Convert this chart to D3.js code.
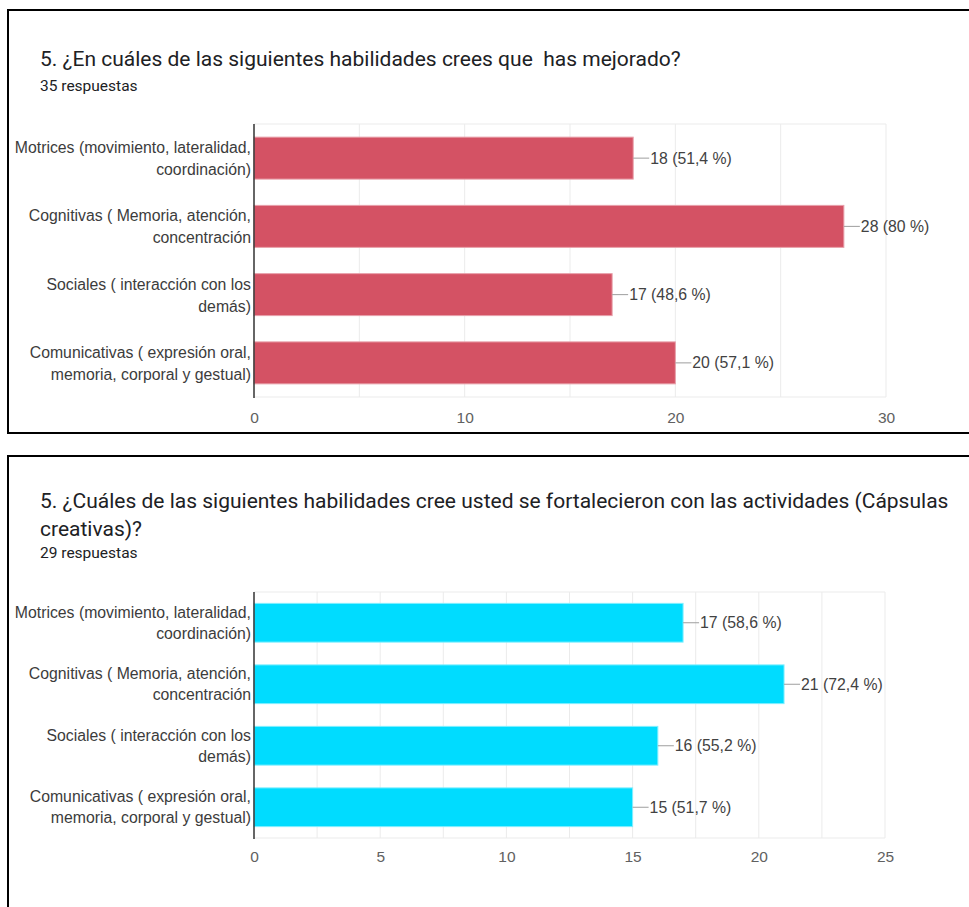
<!DOCTYPE html>
<html>
<head>
<meta charset="utf-8">
<script src="https://cdn.jsdelivr.net/npm/d3@7"></script>
<style>
  html, body { margin: 0; padding: 0; background: #ffffff; }
  svg { display: block; }
  text { white-space: pre; }
</style>
</head>
<body>
<svg id="chart" width="969" height="907"></svg>
<script>
// ---- data ----
const categories = [
  ["Motrices (movimiento, lateralidad,", "coordinación)"],
  ["Cognitivas ( Memoria, atención,", "concentración"],
  ["Sociales ( interacción con los", "demás)"],
  ["Comunicativas ( expresión oral,", "memoria, corporal y gestual)"]
];
const catKeys = ["motrices", "cognitivas", "sociales", "comunicativas"];

const title1 = ["5. ¿En cuáles de las siguientes habilidades crees que  has mejorado?"];
const responses1 = "35 respuestas";
const values1 = [18, 28, 17, 20];
const percents1 = ["51,4", "80", "48,6", "57,1"];
const ticks1 = [0, 10, 20, 30];
const grid1 = [5, 10, 15, 20, 25, 30];

const title2 = ["5. ¿Cuáles de las siguientes habilidades cree usted se fortalecieron con las actividades (Cápsulas", "creativas)?"];
const responses2 = "29 respuestas";
const values2 = [17, 21, 16, 15];
const percents2 = ["58,6", "72,4", "55,2", "51,7"];
const ticks2 = [0, 5, 10, 15, 20, 25];
const grid2 = [2.5, 5, 7.5, 10, 12.5, 15, 17.5, 20, 22.5, 25];

// ---- drawing ----
const svg = d3.select("#chart");
svg.style("font-family", "'Liberation Sans', Arial, sans-serif");

function panel(cfg) {
  const g = svg.append("g");
  // outer card border
  g.append("rect")
    .attr("x", cfg.box[0]).attr("y", cfg.box[1])
    .attr("width", cfg.box[2]).attr("height", cfg.box[3])
    .attr("fill", "none").attr("stroke", "#000").attr("stroke-width", 2);

  // title
  const t = g.append("text")
    .attr("x", 40)
    .attr("font-family", "Roboto, sans-serif")
    .attr("font-size", 21)
    .attr("fill", "#202124");
  cfg.title.forEach((line, i) => {
    t.append("tspan").attr("x", 40).attr("y", cfg.titleY + i * 28).text(line);
  });
  g.append("text")
    .attr("x", 40).attr("y", cfg.respY)
    .attr("font-family", "Roboto, sans-serif")
    .attr("font-size", 15.5)
    .attr("fill", "#202124")
    .text(cfg.responses);

  const x = d3.scaleLinear().domain(cfg.domain).range([cfg.left, cfg.right]);
  const y = d3.scaleBand().domain(catKeys).range([cfg.top, cfg.bottom])
    .paddingInner(cfg.pad).paddingOuter(cfg.pad / 2);

  // grid lines
  g.append("g").selectAll("line").data(cfg.grid).join("line")
    .attr("x1", d => x(d)).attr("x2", d => x(d))
    .attr("y1", cfg.top).attr("y2", cfg.bottom)
    .attr("stroke", "#ebebeb").attr("stroke-width", 1);
  // top and bottom frame
  g.append("line").attr("x1", cfg.left).attr("x2", cfg.right)
    .attr("y1", cfg.top).attr("y2", cfg.top)
    .attr("stroke", "#ebebeb").attr("stroke-width", 1);
  g.append("line").attr("x1", cfg.left).attr("x2", cfg.right)
    .attr("y1", cfg.bottom).attr("y2", cfg.bottom)
    .attr("stroke", "#ebebeb").attr("stroke-width", 1);

  // x axis tick labels via d3 axis
  const axis = d3.axisBottom(x).tickValues(cfg.ticks).tickSize(0).tickPadding(0);
  const ax = g.append("g")
    .attr("transform", `translate(0,${cfg.tickY})`)
    .call(axis);
  ax.select(".domain").remove();
  ax.selectAll("text")
    .attr("font-family", "'Liberation Sans', Arial, sans-serif")
    .attr("font-size", 15.5)
    .attr("fill", "#616161")
    .attr("dy", 0);

  // bars
  const data = catKeys.map((k, i) => ({ k, v: cfg.values[i], p: cfg.percents[i], lines: categories[i] }));
  g.append("g").selectAll("rect").data(data).join("rect")
    .attr("x", x(0))
    .attr("y", d => y(d.k))
    .attr("width", d => x(d.v) - x(0))
    .attr("height", y.bandwidth())
    .attr("fill", cfg.color)
    .attr("stroke", cfg.stroke).attr("stroke-width", 1);

  // leader lines + value labels
  g.append("g").selectAll("line").data(data).join("line")
    .attr("x1", d => x(d.v)).attr("x2", d => x(d.v) + 16)
    .attr("y1", d => y(d.k) + y.bandwidth() / 2)
    .attr("y2", d => y(d.k) + y.bandwidth() / 2)
    .attr("stroke", "#9e9e9e").attr("stroke-width", 1);
  g.append("g").selectAll("text").data(data).join("text")
    .attr("x", d => x(d.v) + 17)
    .attr("y", d => y(d.k) + y.bandwidth() / 2 + 5.5)
    .attr("font-size", 15.8)
    .attr("fill", "#424242")
    .text(d => `${d.v} (${d.p} %)`);

  // category labels
  const cl = g.append("g").selectAll("text").data(data).join("text")
    .attr("text-anchor", "end")
    .attr("font-size", 15.8)
    .attr("fill", "#3c3c3c");
  cl.each(function(d) {
    const sel = d3.select(this);
    const cy = y(d.k) + y.bandwidth() / 2;
    d.lines.forEach((line, i) => {
      sel.append("tspan").attr("x", cfg.left - 3)
        .attr("y", cy - 5 + i * cfg.lineGap)
        .text(line);
    });
  });

  // zero axis line
  g.append("line")
    .attr("x1", x(0)).attr("x2", x(0))
    .attr("y1", cfg.top).attr("y2", cfg.bottom + 1)
    .attr("stroke", "#333").attr("stroke-width", 1.5);
}

panel({
  box: [8, 10, 980, 423],
  title: title1, titleY: 66, respY: 91, responses: responses1,
  domain: [0, 30], left: 254, right: 886, top: 124, bottom: 397, pad: 0.385,
  grid: grid1, ticks: ticks1, tickY: 423, lineGap: 22,
  values: values1, percents: percents1,
  color: "#d45264", stroke: "#e8a0aa"
});

panel({
  box: [8, 456, 980, 470],
  title: title2, titleY: 508, respY: 558, responses: responses2,
  domain: [0, 25], left: 254, right: 885, top: 592, bottom: 838, pad: 0.37,
  grid: grid2, ticks: ticks2, tickY: 862, lineGap: 21,
  values: values2, percents: percents2,
  color: "#00dcff", stroke: "#80eeff"
});
</script>
</body>
</html>
